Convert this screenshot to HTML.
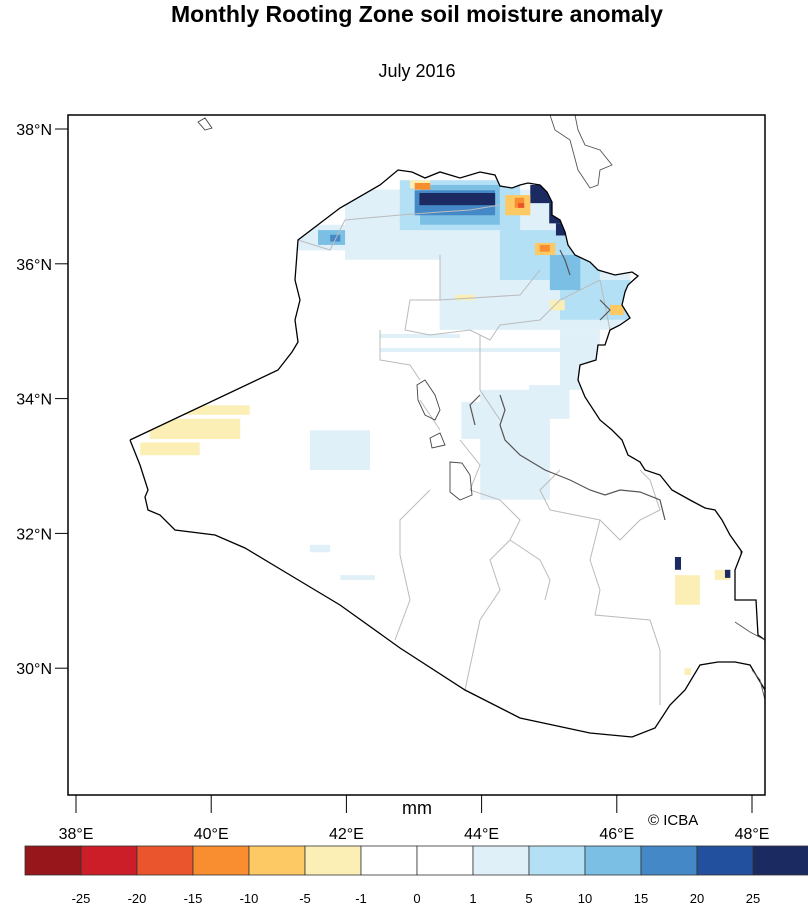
<!DOCTYPE html>
<html><head><meta charset="utf-8"><style>
body{margin:0;background:#fff;}
svg text{font-family:"Liberation Sans",Arial,sans-serif;fill:#000;}
</style></head><body>
<svg width="808" height="905" xmlns="http://www.w3.org/2000/svg">
<defs><clipPath id="iraq"><path d="M130,440 L278,370 L292,352 L298,342 L295,320 L300,300 L295,280 L298,240 L340,208 L380,185 L398,170 L412,172 L425,178 L440,172 L460,178 L480,172 L495,175 L500,186 L512,188 L520,185 L528,183 L540,185 L547,192 L552,202 L552,215 L560,220 L565,232 L568,245 L575,255 L590,262 L598,270 L615,275 L632,272 L638,276 L628,285 L625,292 L622,305 L630,318 L620,325 L610,330 L605,345 L598,345 L596,360 L580,365 L578,380 L585,397 L600,420 L612,430 L622,440 L628,455 L640,462 L645,470 L660,475 L672,490 L690,500 L705,508 L715,510 L722,520 L730,535 L742,552 L735,570 L735,600 L756,600 L758,635 L765,640 L765,690 L750,665 L735,662 L718,662 L700,665 L685,690 L670,705 L655,728 L632,737 L590,733 L520,718 L465,690 L400,648 L340,605 L290,575 L245,548 L215,535 L175,530 L160,515 L148,510 L145,497 L148,490 L140,465 Z"/></clipPath></defs>
<text x="417" y="22" font-size="23" font-weight="bold" text-anchor="middle">Monthly Rooting Zone soil moisture anomaly</text>
<text x="417" y="77" font-size="18" text-anchor="middle">July 2016</text>
<g id="cells" clip-path="url(#iraq)"></g>
<g fill="none">
<path stroke="#bbb" stroke-width="1" d="M298,240 L330,250 L345,220 L400,215 L440,212 L470,210 L500,205 M440,255 L440,300 L410,300 L405,330 L430,335 L470,330 L490,340 L500,325 L540,320 L560,300 L600,280 M380,330 L380,360 L410,365 L420,380 M440,300 L520,295 L540,270 M480,335 L480,390 L500,420 M600,280 L610,330 M420,400 L440,430 M460,440 L480,465 L470,490 L500,500 L520,520 L510,540 L490,560 L500,590 L480,620 L465,690 M430,490 L400,520 L400,555 L410,600 L395,640 M510,540 L540,560 L550,580 L545,600 M550,510 L600,520 L620,540 L640,520 L660,510 L650,480 M600,520 L590,560 L600,590 L595,615 L650,620 L660,650 L660,705 M560,470 L540,490 L550,510 M650,480 L640,470"/>
<path stroke="#555" stroke-width="1.2" d="M500,395 L505,410 L500,425 L505,440 L520,455 L545,470 L570,480 L590,490 L605,495 L620,490 L640,492 L660,500 L665,520 M480,395 L470,405 L475,425 M560,250 L565,260 L570,275 M600,300 L610,310 L600,320"/>
<path stroke="#444" stroke-width="0.9" d="M417,385 L425,380 L435,395 L440,410 L435,420 L425,415 L418,400 Z M430,438 L440,433 L445,445 L432,448 Z M450,462 L462,463 L470,475 L472,495 L460,500 L450,492 Z M198,122 L205,118 L212,128 L205,130 Z"/>
<path stroke="#000" stroke-width="1.3" d="M130,440 L278,370 L292,352 L298,342 L295,320 L300,300 L295,280 L298,240 L340,208 L380,185 L398,170 L412,172 L425,178 L440,172 L460,178 L480,172 L495,175 L500,186 L512,188 L520,185 L528,183 L540,185 L547,192 L552,202 L552,215 L560,220 L565,232 L568,245 L575,255 L590,262 L598,270 L615,275 L632,272 L638,276 L628,285 L625,292 L622,305 L630,318 L620,325 L610,330 L605,345 L598,345 L596,360 L580,365 L578,380 L585,397 L600,420 L612,430 L622,440 L628,455 L640,462 L645,470 L660,475 L672,490 L690,500 L705,508 L715,510 L722,520 L730,535 L742,552 L735,570 L735,600 L756,600 L758,635 L765,640 M765,690 L750,665 L735,662 L718,662 L700,665 L685,690 L670,705 L655,728 L632,737 L590,733 L520,718 L465,690 L400,648 L340,605 L290,575 L245,548 L215,535 L175,530 L160,515 L148,510 L145,497 L148,490 L140,465 L130,440"/>
<path stroke="#555" stroke-width="0.9" d="M735,622 L750,632 L765,640 M752,670 L760,680 L765,700 M550,115 L555,130 L570,140 L578,170 L590,188 L598,185 L600,170 L612,165 L600,150 L585,145 L578,130 L575,115"/>
</g>
<rect x="68" y="115" width="697" height="680" fill="none" stroke="#000" stroke-width="1.5"/>
<g id="axes"></g>
<text x="417" y="814" font-size="18" text-anchor="middle">mm</text>
<text x="648" y="825" font-size="15">© ICBA</text>
<g id="cbar"></g>
</svg>
<script>
const levelColors=["#96161c","#cb1e28","#ea552d","#f98e31","#fdc965","#fcefb6","#ffffff","#ffffff","#dff0f8","#b3e0f5","#7cbfe5","#4488c7","#23509e","#1b2a60"];
const levelLabels=["-25","-20","-15","-10","-5","-1","0","1","5","10","15","20","25"];
const latTicks=[38,36,34,32,30];
const lonTicks=[38,40,42,44,46,48];
// anomaly cells: lon0, lat0(top), lon1, lat1(bottom), class
const cellLon0=[41.98,41.28,43.38,45.16,43.98,41.46,42.50,42.50,41.91,41.46,43.70,44.70,42.79,44.27,45.16,41.58,45.01,43.09,41.76,43.01,44.72,45.00,45.10,43.08,42.94,43.61,39.46,39.09,38.95,39.30,45.01,46.86,47.45,44.35,44.79,45.90,44.49,44.86,43.01,44.54,46.86,47.60,47.83,47.00];
const cellLat0=[37.10,36.58,36.13,35.02,34.13,33.53,34.75,34.96,31.38,31.83,33.95,34.20,37.24,36.50,35.76,36.50,36.13,37.17,36.43,37.09,37.17,36.90,36.60,37.05,37.24,35.54,33.90,33.70,33.35,33.53,35.46,31.38,31.46,37.02,36.31,35.39,36.98,36.28,37.20,36.90,31.65,31.46,31.85,30.00];
const cellLon1=[45.16,41.98,46.20,45.75,45.01,42.35,45.16,43.68,42.42,41.76,44.20,45.30,44.57,45.75,46.20,41.98,45.46,44.27,41.91,44.20,45.23,45.35,45.40,44.20,43.24,43.90,40.57,40.43,39.83,39.90,45.23,47.23,47.67,44.72,45.09,46.10,44.63,45.01,43.24,44.63,46.95,47.68,47.87,47.10];
const cellLat1=[36.06,36.20,35.02,34.13,32.50,32.94,34.69,34.90,31.31,31.72,33.40,33.70,36.50,35.76,35.17,36.28,35.61,36.58,36.33,36.72,36.90,36.60,36.42,36.87,37.12,35.46,33.76,33.40,33.16,33.45,35.31,30.94,31.31,36.72,36.13,35.24,36.83,36.18,37.10,36.83,31.46,31.34,31.70,29.90];
const cellClass=[8,8,8,8,8,8,8,8,8,8,8,8,9,9,9,10,10,10,11,11,13,13,13,13,5,5,5,5,5,5,5,5,5,4,4,4,3,3,3,2,13,13,13,5];
const NS="http://www.w3.org/2000/svg";
function xOf(lon){return 76+(lon-38)*67.6;}
function yOf(lat){return 129+(38-lat)*67.4;}
const cells=document.getElementById('cells');
for(let i=0;i<cellClass.length;i++){
 const r=document.createElementNS(NS,'rect');
 r.setAttribute('x',xOf(cellLon0[i]));r.setAttribute('y',yOf(cellLat0[i]));
 r.setAttribute('width',xOf(cellLon1[i])-xOf(cellLon0[i]));r.setAttribute('height',yOf(cellLat1[i])-yOf(cellLat0[i]));
 r.setAttribute('fill',levelColors[cellClass[i]]);
 
 
 cells.appendChild(r);
}
const axes=document.getElementById('axes');
latTicks.forEach(v=>{
 const y=yOf(v);
 const l=document.createElementNS(NS,'line');
 l.setAttribute('x1',55);l.setAttribute('x2',68);l.setAttribute('y1',y);l.setAttribute('y2',y);l.setAttribute('stroke','#000');
 
 
 axes.appendChild(l);
 const t=document.createElementNS(NS,'text');
 t.setAttribute('x',52);t.setAttribute('y',y+6);t.setAttribute('font-size','16');t.setAttribute('text-anchor','end');
 t.textContent=v+'°N';
 
 
 axes.appendChild(t);
});
lonTicks.forEach(v=>{
 const x=xOf(v);
 const l=document.createElementNS(NS,'line');
 l.setAttribute('x1',x);l.setAttribute('x2',x);l.setAttribute('y1',795);l.setAttribute('y2',813);l.setAttribute('stroke','#000');
 
 
 axes.appendChild(l);
 const t=document.createElementNS(NS,'text');
 t.setAttribute('x',x);t.setAttribute('y',839);t.setAttribute('font-size','16');t.setAttribute('text-anchor','middle');
 t.textContent=v+'°E';
 
 
 axes.appendChild(t);
});
const cb=document.getElementById('cbar');
const bw=56,bx=25;
levelColors.forEach((c,i)=>{
 const r=document.createElementNS(NS,'rect');
 r.setAttribute('x',bx+i*bw);r.setAttribute('y',846);r.setAttribute('width',bw);r.setAttribute('height',29);
 r.setAttribute('fill',c);r.setAttribute('stroke','#333');r.setAttribute('stroke-width','0.8');
 
 
 cb.appendChild(r);
});
levelLabels.forEach((s,i)=>{
 const t=document.createElementNS(NS,'text');
 t.setAttribute('x',bx+(i+1)*bw);t.setAttribute('y',903);t.setAttribute('font-size','13');t.setAttribute('text-anchor','middle');
 t.textContent=s;
 
 
 cb.appendChild(t);
});
</script>
</body></html>
